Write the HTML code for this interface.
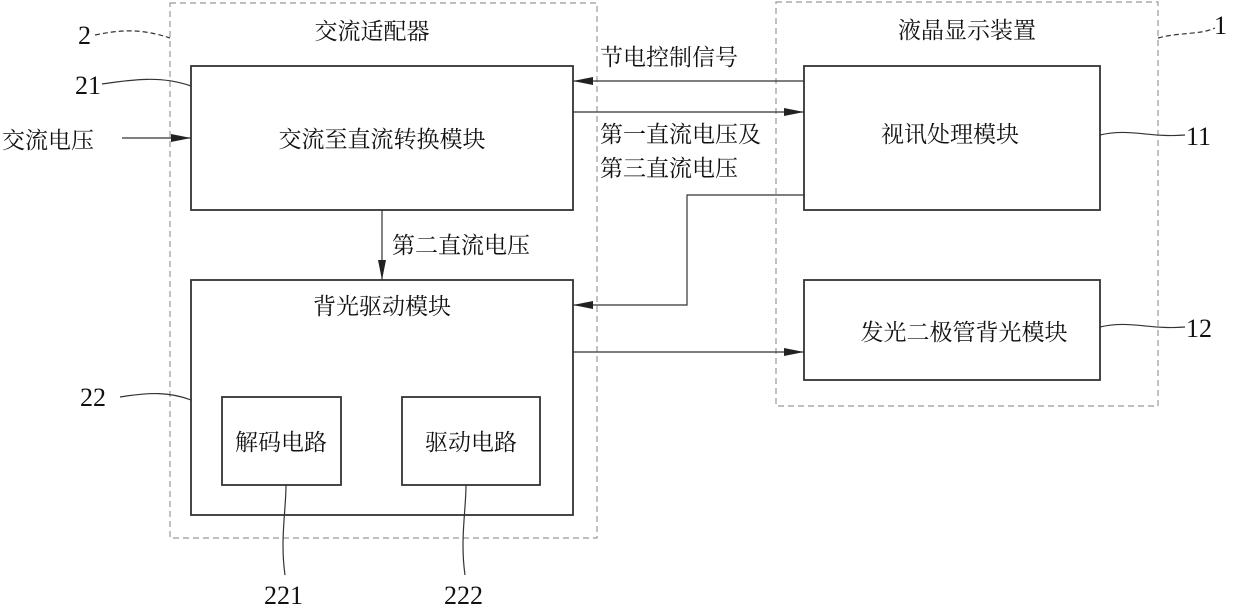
<!DOCTYPE html>
<html><head><meta charset="utf-8"><style>
body{margin:0;background:#fff}
svg text{font-family:"Liberation Serif","Noto Serif CJK SC","Noto Sans CJK SC",serif;fill:#111}
</style></head><body>
<svg width="1240" height="611" viewBox="0 0 1240 611" xmlns="http://www.w3.org/2000/svg">
<defs><marker id="a" markerWidth="20" markerHeight="8" refX="20" refY="4" orient="auto" markerUnits="userSpaceOnUse"><path d="M0,0 L20,4 L0,8 z" fill="#222"/></marker></defs>
<g fill="none" stroke="#999" stroke-width="1.2" stroke-dasharray="6,4">
<rect x="170" y="3" width="427" height="535"/>
<rect x="776" y="2" width="382" height="404"/>
</g>
<g fill="none" stroke="#333" stroke-width="1.8">
<rect x="191" y="66" width="382" height="144"/>
<rect x="191" y="280" width="382" height="235"/>
<rect x="222" y="397" width="119" height="88"/>
<rect x="402" y="397" width="138" height="88"/>
<rect x="804" y="66" width="296" height="144"/>
<rect x="804" y="280" width="296" height="100"/>
</g>
<g fill="none" stroke="#333" stroke-width="1.2">
<line x1="804" y1="81" x2="573" y2="81" marker-end="url(#a)"/>
<line x1="573" y1="112" x2="804" y2="112" marker-end="url(#a)"/>
<line x1="382" y1="210" x2="382" y2="280" marker-end="url(#a)"/>
<polyline points="804,195 687,195 687,305 573,305" marker-end="url(#a)"/>
<line x1="573" y1="352" x2="804" y2="352" marker-end="url(#a)"/>
<line x1="122" y1="138" x2="191" y2="138" marker-end="url(#a)"/>
<path d="M102,84 C130,80 160,75 191,86"/>
<path d="M120,397 C150,392 170,392 191,400"/>
<path d="M1100,135 C1130,128 1150,138 1185,135"/>
<path d="M1100,327 C1130,320 1150,330 1185,327"/>
<path d="M286,485 C286,510 280,540 285,575"/>
<path d="M466,485 C466,510 460,540 465,575"/>
</g>
<g fill="none" stroke="#333" stroke-width="1.2" stroke-dasharray="5,3">
<path d="M95,35 C120,30 140,28 170,38"/>
<path d="M1158,38 C1180,32 1200,35 1215,28"/>
</g>
<g font-size="23">
<text x="372" y="39" text-anchor="middle">交流适配器</text>
<text x="600" y="65">节电控制信号</text>
<text x="600" y="142">第一直流电压及</text>
<text x="600" y="176">第三直流电压</text>
<text x="967" y="38" text-anchor="middle">液晶显示装置</text>
<text x="950" y="142" text-anchor="middle">视讯处理模块</text>
<text x="964" y="340" text-anchor="middle">发光二极管背光模块</text>
<text x="382" y="147" text-anchor="middle">交流至直流转换模块</text>
<text x="382" y="314" text-anchor="middle">背光驱动模块</text>
<text x="281" y="450" text-anchor="middle">解码电路</text>
<text x="471" y="450" text-anchor="middle">驱动电路</text>
<text x="392" y="253">第二直流电压</text>
<text x="2" y="148">交流电压</text>
</g>
<g font-size="26">
<text x="78" y="44">2</text>
<text x="75" y="94">21</text>
<text x="80" y="406">22</text>
<text x="1186" y="145">11</text>
<text x="1186" y="337">12</text>
<text x="1214" y="34">1</text>
<text x="264" y="604">221</text>
<text x="444" y="604">222</text>
</g>
</svg>
</body></html>
